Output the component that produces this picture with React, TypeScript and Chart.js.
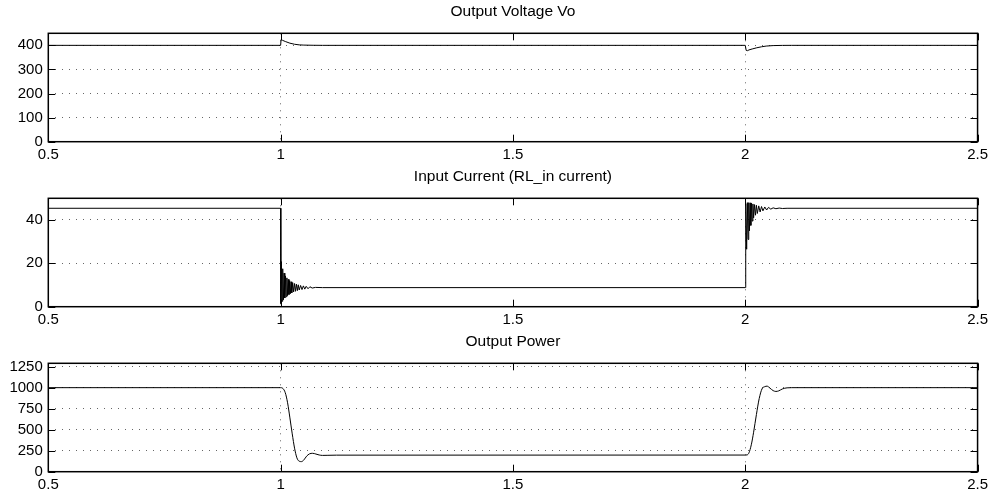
import React, { useEffect, useRef } from 'react';
import { Chart, registerables } from 'chart.js';

Chart.register(...registerables);

// ---- data ----
const xTickValues = [0.5, 1, 1.5, 2, 2.5];

const voltageTitle = 'Output Voltage Vo';
const voltageTicks = [0, 100, 200, 300, 400];
const voltageMax = 450;
const voltageT = [0.5, 1.0, 1.001, 1.004, 1.01, 1.02, 1.03, 1.04, 1.05, 1.07, 1.09,
  2.0, 2.002, 2.005, 2.008, 2.015, 2.025, 2.035, 2.045, 2.06, 2.08, 2.1, 2.5];
const voltageV = [400, 400, 424, 421, 416, 409, 404.5, 402, 401, 400.3, 400,
  400, 379, 378, 381, 385, 390, 394, 397, 399, 399.8, 400, 400];

const currentTitle = 'Input Current (RL_in current)';
const currentTicks = [0, 20, 40];
const currentMax = 50;
const currentT = [0.5, 1.0, 1.0005, 1.0015, 1.003, 1.0045, 1.006, 1.0075, 1.009, 1.0105, 1.012, 1.0135, 1.015,
  1.0165, 1.018, 1.0195, 1.021, 1.0225, 1.024, 1.026, 1.028, 1.030, 1.032, 1.034, 1.036, 1.038, 1.040,
  1.043, 1.046, 1.049, 1.052, 1.055, 1.059, 1.063, 1.068, 1.075, 1.09,
  2.0, 2.0005, 2.0015, 2.003, 2.0045, 2.006, 2.0075, 2.009, 2.0105, 2.012, 2.0135, 2.015, 2.0165, 2.018,
  2.020, 2.022, 2.024, 2.026, 2.029, 2.032, 2.035, 2.038, 2.042, 2.046, 2.050, 2.055, 2.060, 2.066, 2.073, 2.08, 2.09, 2.5];
const currentV = [45.4, 45.4, 1.5, 20.8, 2.5, 17.5, 3.2, 15.5, 4.0, 14.2, 4.6, 13.3, 5.1,
  12.6, 5.6, 12.0, 6.0, 11.5, 6.4, 11.1, 6.8, 10.7, 7.1, 10.4, 7.4, 10.1, 7.7,
  9.8, 7.9, 9.6, 8.1, 9.4, 8.3, 9.2, 8.6, 8.9, 8.8,
  8.8, 30, 47.5, 26.5, 48, 31, 48, 35, 47.9, 37.5, 47.7, 39.5, 47.4, 41,
  47.1, 42.2, 46.8, 43, 46.5, 43.7, 46.2, 44.2, 46, 44.6, 45.8, 45, 45.6, 45.2, 45.5, 45.3, 45.4, 45.4];

const powerTitle = 'Output Power';
const powerTicks = [0, 250, 500, 750, 1000, 1250];
const powerMax = 1290;
const powerT = [0.5, 1.0, 1.005, 1.010, 1.015, 1.020, 1.025, 1.030, 1.035, 1.040, 1.045, 1.050, 1.056, 1.062, 1.069,
  1.076, 1.083, 1.09, 1.10, 1.12,
  2.0, 2.004, 2.008, 2.013, 2.018, 2.024, 2.030, 2.036, 2.042, 2.047, 2.053, 2.060, 2.066, 2.072, 2.08, 2.09, 2.1, 2.5];
const powerV = [1000, 1000, 990, 940, 820, 640, 450, 280, 165, 125, 120, 140, 185, 212, 219,
  210, 199, 194, 195, 197,
  198, 200, 225, 320, 470, 680, 870, 985, 1012, 1018, 995, 965, 955, 962, 985, 998, 1000, 1000];

// ---- styling ----
const FONT = '"Liberation Sans", Arial, Helvetica, sans-serif';
const GRID = '#666';
const PLOT_BOTTOM = 141.7;

const framePlugin = {
  id: 'frame',
  afterDatasetsDraw(chart: any) {
    const { ctx, chartArea: a, scales } = chart;
    const x = scales.x;
    const y = scales.y;
    const L = 7;
    ctx.save();
    ctx.strokeStyle = '#000';
    ctx.lineWidth = 1;
    ctx.beginPath();
    x.ticks.forEach((t: any) => {
      const px = Math.round(x.getPixelForValue(t.value)) + 0.5;
      ctx.moveTo(px, a.bottom);
      ctx.lineTo(px, a.bottom - L);
      ctx.moveTo(px, a.top);
      ctx.lineTo(px, a.top + L);
    });
    y.ticks.forEach((t: any) => {
      const py = Math.round(y.getPixelForValue(t.value)) + 0.5;
      ctx.moveTo(a.left, py);
      ctx.lineTo(a.left + L, py);
      ctx.moveTo(a.right, py);
      ctx.lineTo(a.right - L, py);
    });
    ctx.stroke();
    ctx.lineWidth = 1.5;
    ctx.strokeRect(a.left, a.top, a.right - a.left, a.bottom - a.top);
    ctx.restore();
  },
};

type PanelProps = {
  title: string;
  t: number[];
  v: number[];
  yTicks: number[];
  yMax: number;
  top: number;
  height: number;
  smooth?: boolean;
};

function Panel({ title, t, v, yTicks, yMax, top, height, smooth }: PanelProps) {
  const ref = useRef<HTMLCanvasElement>(null);
  useEffect(() => {
    if (!ref.current) return;
    const tickFont = { family: FONT, size: 15, weight: 'normal' as const };
    const titleFont = { family: FONT, size: 15.5, weight: 'normal' as const };
    const chart = new Chart(ref.current, {
      type: 'line',
      data: {
        datasets: [
          {
            data: t.map((xv, i) => ({ x: xv, y: v[i] })),
            borderColor: '#000',
            borderWidth: 1,
            pointRadius: 0,
            fill: false,
            tension: 0,
            cubicInterpolationMode: smooth ? 'monotone' : 'default',
          },
        ],
      },
      options: {
        responsive: false,
        animation: false,
        events: [],
        layout: { padding: { left: 0, right: 14, top: 0, bottom: 0 } },
        plugins: {
          legend: { display: false },
          tooltip: { enabled: false },
          title: {
            display: true,
            fullSize: false,
            text: title,
            color: '#000',
            font: titleFont,
            padding: { top: 2.8, bottom: 11.9 },
          },
        },
        scales: {
          x: {
            type: 'linear',
            min: 0.5,
            max: 2.5,
            afterBuildTicks: (s: any) => {
              s.ticks = xTickValues.map((value) => ({ value }));
            },
            afterFit: (s: any) => {
              s.height = height - PLOT_BOTTOM;
            },
            ticks: {
              color: '#000',
              font: tickFont,
              padding: 4,
              maxRotation: 0,
              autoSkip: false,
              callback: (val: any) => String(val),
            },
            grid: {
              drawTicks: false,
              lineWidth: 1,
              color: (c: any) =>
                c.tick && (c.tick.value === 1 || c.tick.value === 2) ? GRID : 'rgba(0,0,0,0)',
            },
            border: { display: false, dash: [1, 6] },
          },
          y: {
            type: 'linear',
            min: 0,
            max: yMax,
            afterBuildTicks: (s: any) => {
              s.ticks = yTicks.map((value) => ({ value }));
            },
            afterFit: (s: any) => {
              s.width = 48.3;
            },
            ticks: {
              color: '#000',
              font: tickFont,
              padding: 5.5,
              autoSkip: false,
              callback: (val: any) => String(val),
            },
            grid: {
              drawTicks: false,
              lineWidth: 1,
              color: (c: any) => (c.tick && c.tick.value > 0 ? GRID : 'rgba(0,0,0,0)'),
            },
            border: { display: false, dash: [1, 6] },
          },
        },
      } as any,
      plugins: [framePlugin],
    });
    return () => chart.destroy();
  }, []);
  return (
    <canvas
      ref={ref}
      width={992}
      height={height}
      style={{ position: 'absolute', left: 0, top, width: 992, height, display: 'block' }}
    />
  );
}

export default function App() {
  return (
    <div style={{ position: 'absolute', left: 0, top: 0, width: 992, height: 498, background: '#fff' }}>
      <Panel title={voltageTitle} t={voltageT} v={voltageV} yTicks={voltageTicks} yMax={voltageMax} top={0} height={165} />
      <Panel title={currentTitle} t={currentT} v={currentV} yTicks={currentTicks} yMax={currentMax} top={165} height={165} />
      <Panel title={powerTitle} t={powerT} v={powerV} yTicks={powerTicks} yMax={powerMax} top={330} height={168} smooth />
    </div>
  );
}
